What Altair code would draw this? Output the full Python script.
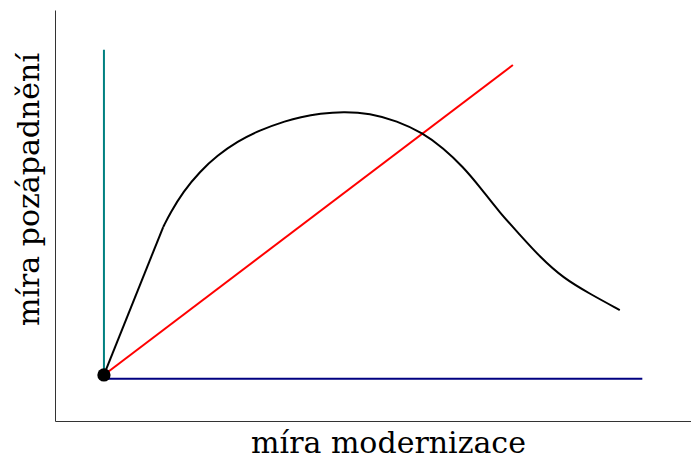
import altair as alt
import pandas as pd

# origin point
origin_x = [0.76]
origin_y = [1.12]

# black curve: initial straight segment, then smooth hump
seg_x = [0.76, 1.68]
seg_y = [1.12, 4.72]
curve_x = [1.68, 1.79, 1.99, 2.25, 2.52, 2.83, 3.18, 3.60, 3.80, 4.12, 4.47, 4.89,
           5.31, 5.71, 6.03, 6.34, 6.60, 6.91, 7.22, 7.53, 7.89, 8.31, 8.77]
curve_y = [4.72, 5.06, 5.58, 6.07, 6.46, 6.80, 7.08, 7.31, 7.39, 7.48, 7.53, 7.49,
           7.30, 7.01, 6.64, 6.18, 5.69, 5.06, 4.53, 3.99, 3.48, 3.09, 2.70]

# straight lines
teal_x = [0.76, 0.76]
teal_y = [1.12, 9.03]
blue_x = [0.76, 9.12]
blue_y = [1.03, 1.03]
red_x = [0.76, 7.11]
red_y = [1.12, 8.66]

xs = alt.Scale(domain=[0, 9.876], nice=False, zero=False)
ys = alt.Scale(domain=[0, 10], nice=False, zero=False)

xaxis = alt.Axis(title="míra modernizace", ticks=False, labels=False, grid=False,
                 domainColor="#333333", domainWidth=1,
                 titleFont="DejaVu Serif", titleFontSize=30, titleFontWeight="normal",
                 titleColor="black", titleX=333, titleY=31, titleBaseline="alphabetic",
                 titleAlign="center")
yaxis = alt.Axis(title="míra pozápadnění", ticks=False, labels=False, grid=False,
                 domainColor="#333333", domainWidth=1,
                 titleFont="DejaVu Serif", titleFontSize=30, titleFontWeight="normal",
                 titleColor="black", titleX=-17, titleY=179, titleAngle=270,
                 titleBaseline="alphabetic", titleAlign="center")


def line(xv, yv, color, interp="linear"):
    df = pd.DataFrame({"x": xv, "y": yv, "o": list(range(len(xv)))})
    return alt.Chart(df).mark_line(color=color, strokeWidth=2, interpolate=interp).encode(
        x=alt.X("x:Q", scale=xs, axis=xaxis),
        y=alt.Y("y:Q", scale=ys, axis=yaxis),
        order="o:Q",
    )


dot = alt.Chart(pd.DataFrame({"x": origin_x, "y": origin_y})).mark_circle(
    color="black", size=175, opacity=1
).encode(x=alt.X("x:Q", scale=xs, axis=xaxis), y=alt.Y("y:Q", scale=ys, axis=yaxis))

chart = alt.layer(
    line(teal_x, teal_y, "#008080"),
    line(blue_x, blue_y, "#000080"),
    line(red_x, red_y, "#ff0000"),
    line(seg_x, seg_y, "black"),
    line(curve_x, curve_y, "black", "basis"),
    dot,
).properties(
    width=636, height=411,
    background="white",
    autosize=alt.AutoSizeParams(type="none"),
    padding={"left": 47, "top": 2, "right": 0, "bottom": 40},
).configure_view(stroke="transparent", strokeWidth=0)

chart.save("out.html", embed_options={"renderer": "svg", "actions": False})
